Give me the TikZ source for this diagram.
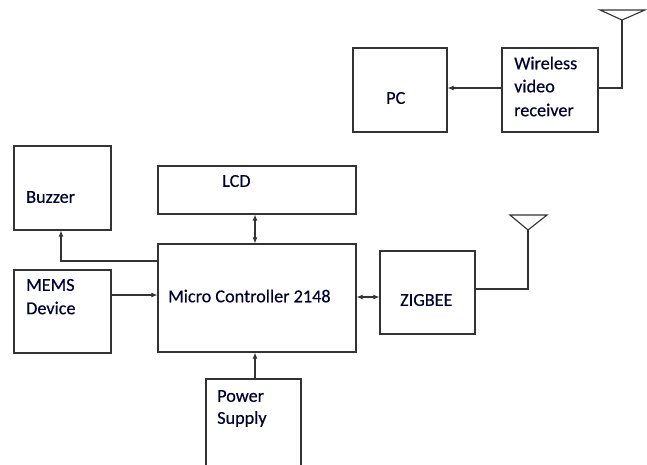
\documentclass[tikz,border=0pt]{standalone}
\usepackage{fontspec}
\setmainfont{Carlito}
\newfontfamily\lblfont{Carlito}[FakeBold=0.4]
\usetikzlibrary{arrows.meta}
\begin{document}
\begin{tikzpicture}[x=1pt,y=-1pt,
  box/.style={draw=black!80,line width=1.1pt,minimum width=0pt,minimum height=0pt,inner sep=0pt},
  lbl/.style={anchor=west,inner sep=0pt,font=\lblfont\fontsize{18.2}{20}\selectfont,text=black!80!blue},
  conn/.style={draw=black!80,line width=1.1pt},
  arr/.style={conn,-{Latex[length=6pt,width=5pt]}},
  darr/.style={conn,{Latex[length=6pt,width=5pt]}-{Latex[length=6pt,width=5pt]}}]
\useasboundingbox (0,0) rectangle (647,464);
\clip (0,0) rectangle (647,464);
% boxes
\node[box,minimum width=94pt,minimum height=84pt] (pc) at (400,90) {};
\node[box,minimum width=96pt,minimum height=84pt] (wr) at (550,90) {};
\node[box,minimum width=97pt,minimum height=84pt] (bz) at (62.5,188) {};
\node[box,minimum width=198pt,minimum height=48pt] (lcd) at (257,190) {};
\node[box,minimum width=198pt,minimum height=108pt] (mc) at (257,298) {};
\node[box,minimum width=97pt,minimum height=83pt] (mems) at (62.5,311.5) {};
\node[box,minimum width=95pt,minimum height=83pt] (zb) at (427.5,292.5) {};
\coordinate (psTL) at (206,379);
\coordinate (psTR) at (301,379);
\draw[conn] (206,470) -- (psTL) -- (psTR) -- (301,470);
\coordinate (ps) at (255,379);
% labels
\node[lbl] (tpc) at (386,98) {PC};
\node[lbl] (tw1) at (514,63) {Wireless};
\node[lbl] (tw2) at (514,86) {video};
\node[lbl] (tw3) at (514,110) {receiver};
\node[lbl] (tbz) at (26,197) {Buzzer};
\node[lbl] (tlcd) at (222,181) {LCD};
\node[lbl] (tm1) at (26,285) {MEMS};
\node[lbl] (tm2) at (26,308) {Device};
\node[lbl] (tmc) at (168,296) {Micro Controller 2148};
\node[lbl] (tzb) at (400,300) {ZIGBEE};
\node[lbl] (tp1) at (217,396) {Power};
\node[lbl] (tp2) at (217,419) {Supply};
% connectors
\draw[arr] (wr.west |- 0,88) -- (pc.east |- 0,88);
\coordinate (ant1) at (622,20);
\draw[conn] (wr.east |- 0,88) -| (ant1);
\draw[conn] (ant1) -- (600,10) -- (645,10) -- cycle;
\coordinate (ant2) at (528,230);
\draw[conn] (zb.east |- 0,289) -| (ant2);
\draw[conn] (ant2) -- (510,215) -- (547,215) -- cycle;
\draw[arr] (mc.west |- 0,261) -| (bz.south -| 61,0);
\draw[darr] (lcd.south -| 255,0) -- (mc.north -| 255,0);
\draw[arr] (mems.east |- 0,295) -- (mc.west |- 0,295);
\draw[darr] (mc.east |- 0,297) -- (zb.west |- 0,297);
\draw[arr] (ps) -- (mc.south -| 255,0);
\end{tikzpicture}
\end{document}
